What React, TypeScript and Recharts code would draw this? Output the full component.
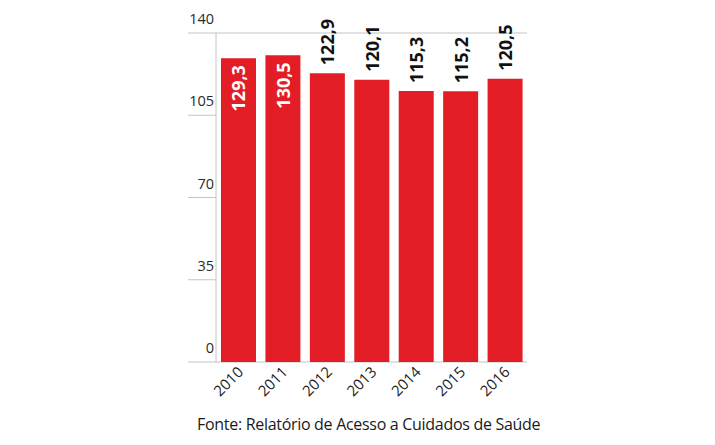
import { Bar, BarChart, CartesianGrid, LabelList, XAxis, YAxis } from 'recharts';

const YEARS = ['2010', '2011', '2012', '2013', '2014', '2015', '2016'];
const VALUES = [129.3, 130.5, 122.9, 120.1, 115.3, 115.2, 120.5];
const Y_TICKS = [0, 35, 70, 105, 140];
const SOURCE = 'Fonte: Relatório de Acesso a Cuidados de Saúde';

const RED = '#e31d25';
const GRID = '#c4c4c4';
const FONT = "'Open Sans', sans-serif";

// labels sit inside the bar when there's no room above it
const INSIDE_FROM = 125;

const data = YEARS.map((year, i) => ({ year, value: VALUES[i] }));

const fmt = (v: number) => v.toFixed(1).replace('.', ',');

const PLOT_LEFT = 216;
const GRID_LEFT = 188;

function YTick(props: any) {
  const { y, payload } = props;
  return (
    <g>
      <line x1={GRID_LEFT} x2={PLOT_LEFT} y1={y} y2={y} stroke={GRID} strokeWidth={1} />
      <text x={PLOT_LEFT - 2} y={y - 9} textAnchor="end" fontSize={14.5} fill="#2a2a2a" fontFamily={FONT}>
        {payload.value}
      </text>
    </g>
  );
}

function XTick(props: any) {
  const { x, y, payload } = props;
  return (
    <text
      x={x + 6}
      y={y + 3}
      textAnchor="end"
      fontSize={15}
      fill="#222"
      fontFamily={FONT}
      transform={`rotate(-45, ${x + 6}, ${y + 3})`}
    >
      {payload.value}
    </text>
  );
}

function ValueLabel(props: any) {
  const { x, y, width, value } = props;
  const cx = x + width / 2;
  const inside = value >= INSIDE_FROM;
  const ty = inside ? y + 7 : y - 8;
  return (
    <text
      x={cx}
      y={ty}
      textAnchor={inside ? 'end' : 'start'}
      dominantBaseline="central"
      fontSize={18}
      fontWeight={700}
      fill={inside ? '#fff' : '#111'}
      fontFamily={FONT}
      transform={`rotate(-90, ${cx}, ${ty})`}
    >
      {fmt(value)}
    </text>
  );
}

export default function App() {
  return (
    <div style={{ position: 'absolute', left: 0, top: 0, width: 715, height: 445, background: '#fff' }}>
      <BarChart width={715} height={445} data={data} margin={{ top: 33, right: 188, bottom: 33, left: 188 }}>
        <CartesianGrid horizontal vertical={false} stroke={GRID} strokeDasharray="" />
        <XAxis dataKey="year" height={50} axisLine={false} tickLine={false} tick={<XTick />} interval={0} />
        <YAxis
          yAxisId="left"
          width={28}
          domain={[0, 140]}
          ticks={Y_TICKS}
          axisLine={{ stroke: GRID }}
          tickLine={false}
          tick={<YTick />}
        />
        <YAxis
          yAxisId="right"
          orientation="right"
          width={0}
          domain={[0, 140]}
          ticks={Y_TICKS}
          axisLine={{ stroke: GRID }}
          tickLine={false}
          tick={false}
        />
        <Bar yAxisId="left" dataKey="value" fill={RED} barSize={35} isAnimationActive={false}>
          <LabelList dataKey="value" content={<ValueLabel />} />
        </Bar>
      </BarChart>
      <div
        style={{
          position: 'absolute',
          left: 197,
          top: 416,
          fontFamily: FONT,
          fontSize: 16,
          lineHeight: '16px',
          color: '#1a1a1a',
          whiteSpace: 'nowrap',
          letterSpacing: -0.3,
        }}
      >
        {SOURCE}
      </div>
    </div>
  );
}
